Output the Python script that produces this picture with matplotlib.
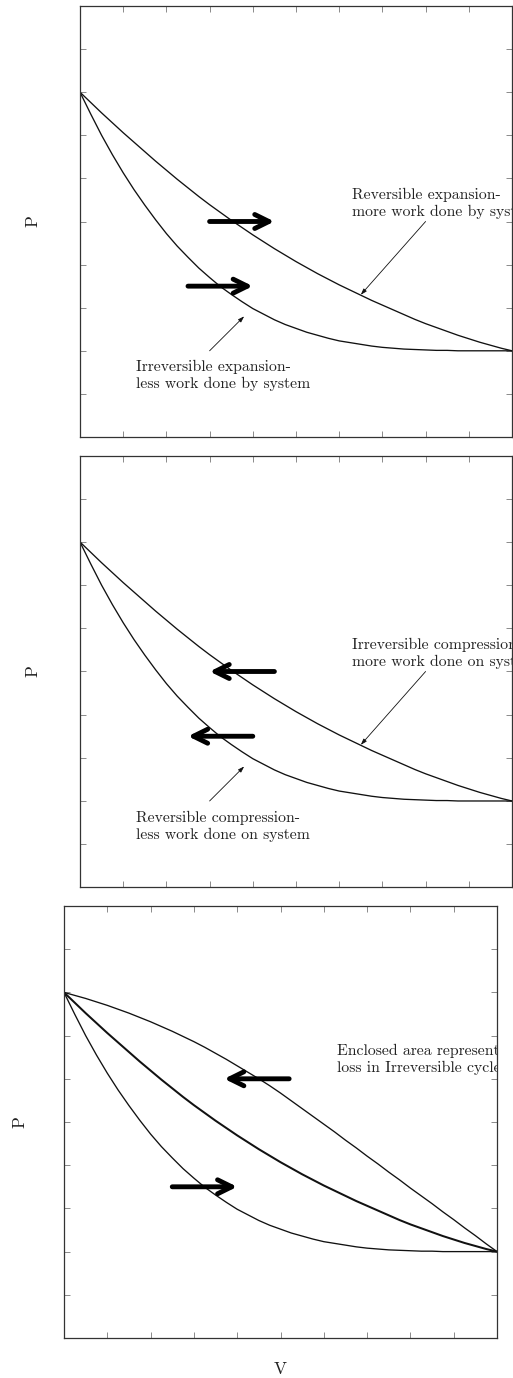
import matplotlib
matplotlib.use("Agg")
import matplotlib.pyplot as plt

W, H = 513, 1378

# ---- data ----
v = [0.00, 0.25, 0.50, 0.75, 1.00, 1.25, 1.50, 1.75, 2.00, 2.25,
     2.50, 2.75, 3.00, 3.25, 3.50, 3.75, 4.00, 4.25, 4.50, 4.75,
     5.00, 5.25, 5.50, 5.75, 6.00, 6.25, 6.50, 6.75, 7.00, 7.25,
     7.50, 7.75, 8.00, 8.25, 8.50, 8.75, 9.00, 9.25, 9.50, 9.75, 10.00]
p_reversible = [8.00, 7.76, 7.52, 7.29, 7.06, 6.84, 6.62, 6.40, 6.19, 5.98,
                5.78, 5.58, 5.39, 5.21, 5.03, 4.86, 4.69, 4.53, 4.37, 4.22,
                4.07, 3.93, 3.79, 3.66, 3.53, 3.41, 3.29, 3.17, 3.06, 2.95,
                2.84, 2.73, 2.63, 2.54, 2.45, 2.36, 2.28, 2.20, 2.13, 2.06, 2.00]
p_irreversible = [8.00, 7.49, 7.00, 6.55, 6.13, 5.74, 5.38, 5.04, 4.72, 4.43,
                  4.17, 3.92, 3.70, 3.49, 3.31, 3.14, 2.98, 2.85, 2.72, 2.61,
                  2.52, 2.43, 2.36, 2.29, 2.23, 2.19, 2.15, 2.11, 2.08, 2.06,
                  2.04, 2.03, 2.02, 2.01, 2.01, 2.00, 2.00, 2.00, 2.00, 2.00, 2.00]
p_irr_compression = [8.00, 7.93, 7.86, 7.78, 7.70, 7.61, 7.52, 7.42, 7.32, 7.21,
                     7.10, 6.98, 6.86, 6.73, 6.59, 6.45, 6.30, 6.15, 6.00, 5.84,
                     5.67, 5.49, 5.31, 5.13, 4.95, 4.77, 4.58, 4.40, 4.21, 4.03,
                     3.84, 3.66, 3.47, 3.29, 3.11, 2.92, 2.74, 2.55, 2.37, 2.18, 2.00]

ticks = list(range(0, 11))

# big direction arrows: (x_start, y_start, x_end, y_end)
arrows_1 = [(3.0, 5.0, 4.5, 5.0), (2.5, 3.5, 4.0, 3.5)]
arrows_2 = [(4.5, 5.0, 3.0, 5.0), (4.0, 3.5, 2.5, 3.5)]
arrows_3 = [(5.2, 6.0, 3.7, 6.0), (2.5, 3.5, 4.0, 3.5)]

# annotation pointers: (x_tail, y_tail, x_head, y_head)
pointers = [(8.0, 5.0, 6.5, 3.3), (3.0, 2.0, 3.8, 2.8)]

texts_1 = [(6.3, 5.43, "Reversible expansion-\nmore work done by system"),
           (1.3, 1.42, "Irreversible expansion-\nless work done by system")]
texts_2 = [(6.3, 5.43, "Irreversible compression-\nmore work done on system"),
           (1.3, 1.42, "Reversible compression-\nless work done on system")]
texts_3 = [(6.3, 6.45, "Enclosed area represents\nloss in Irreversible cycle")]

FONT = "cmr10"
INK = "#111111"

fig = plt.figure(figsize=(W / 100, H / 100), dpi=100)


def make_axes(left, top, right, bottom):
    ax = fig.add_axes([left / W, 1 - bottom / H, (right - left) / W, (bottom - top) / H])
    ax.set_xlim(0, 10)
    ax.set_ylim(0, 10)
    ax.set_xticks(ticks)
    ax.set_yticks(ticks)
    ax.tick_params(direction="in", length=4.3, width=0.6, color="#777777",
                   top=True, right=True, labelbottom=False, labelleft=False)
    for s in ax.spines.values():
        s.set_color("#333333")
        s.set_linewidth(0.9)
    return ax


def big_arrows(ax, arrows):
    for x0, y0, x1, y1 in arrows:
        ax.annotate("", xy=(x1, y1), xytext=(x0, y0),
                    arrowprops=dict(arrowstyle="->,head_length=0.85,head_width=0.42",
                                    mutation_scale=12, lw=3.5, color="black",
                                    shrinkA=0, shrinkB=0))


def thin_pointers(ax):
    for x0, y0, x1, y1 in pointers:
        ax.annotate("", xy=(x1, y1), xytext=(x0, y0),
                    arrowprops=dict(arrowstyle="-|>,head_length=0.45,head_width=0.15",
                                    mutation_scale=8, lw=0.6, color=INK,
                                    shrinkA=0, shrinkB=0))


def add_texts(ax, texts):
    for x, y, s in texts:
        ax.text(x, y, s, ha="left", va="center", fontsize=11.3, family=FONT,
                color="#222222", linespacing=1.25, clip_on=True)


# Panel 1
ax1 = make_axes(80, 6, 512, 437)
ax1.plot(v, p_reversible, color=INK, lw=0.95)
ax1.plot(v, p_irreversible, color=INK, lw=0.95)
big_arrows(ax1, arrows_1)
thin_pointers(ax1)
add_texts(ax1, texts_1)

# Panel 2
ax2 = make_axes(80, 455.7, 512, 887.3)
ax2.plot(v, p_reversible, color=INK, lw=0.95)
ax2.plot(v, p_irreversible, color=INK, lw=0.95)
big_arrows(ax2, arrows_2)
thin_pointers(ax2)
add_texts(ax2, texts_2)

# Panel 3
ax3 = make_axes(64, 906, 497, 1338)
ax3.plot(v, p_irr_compression, color=INK, lw=0.95)
ax3.plot(v, p_reversible, color=INK, lw=1.45)
ax3.plot(v, p_irreversible, color=INK, lw=0.95)
big_arrows(ax3, arrows_3)
add_texts(ax3, texts_3)

# axis labels
lab = dict(ha="center", va="center", fontsize=12.5, family=FONT, color="#222222")
fig.text(33 / W, 1 - 221.5 / H, "P", rotation=90, **lab)
fig.text(33 / W, 1 - 671.5 / H, "P", rotation=90, **lab)
fig.text(20 / W, 1 - 1122 / H, "P", rotation=90, **lab)
fig.text(280.5 / W, 1 - 1369 / H, "V", **lab)

fig.savefig("out.png", dpi=100)
